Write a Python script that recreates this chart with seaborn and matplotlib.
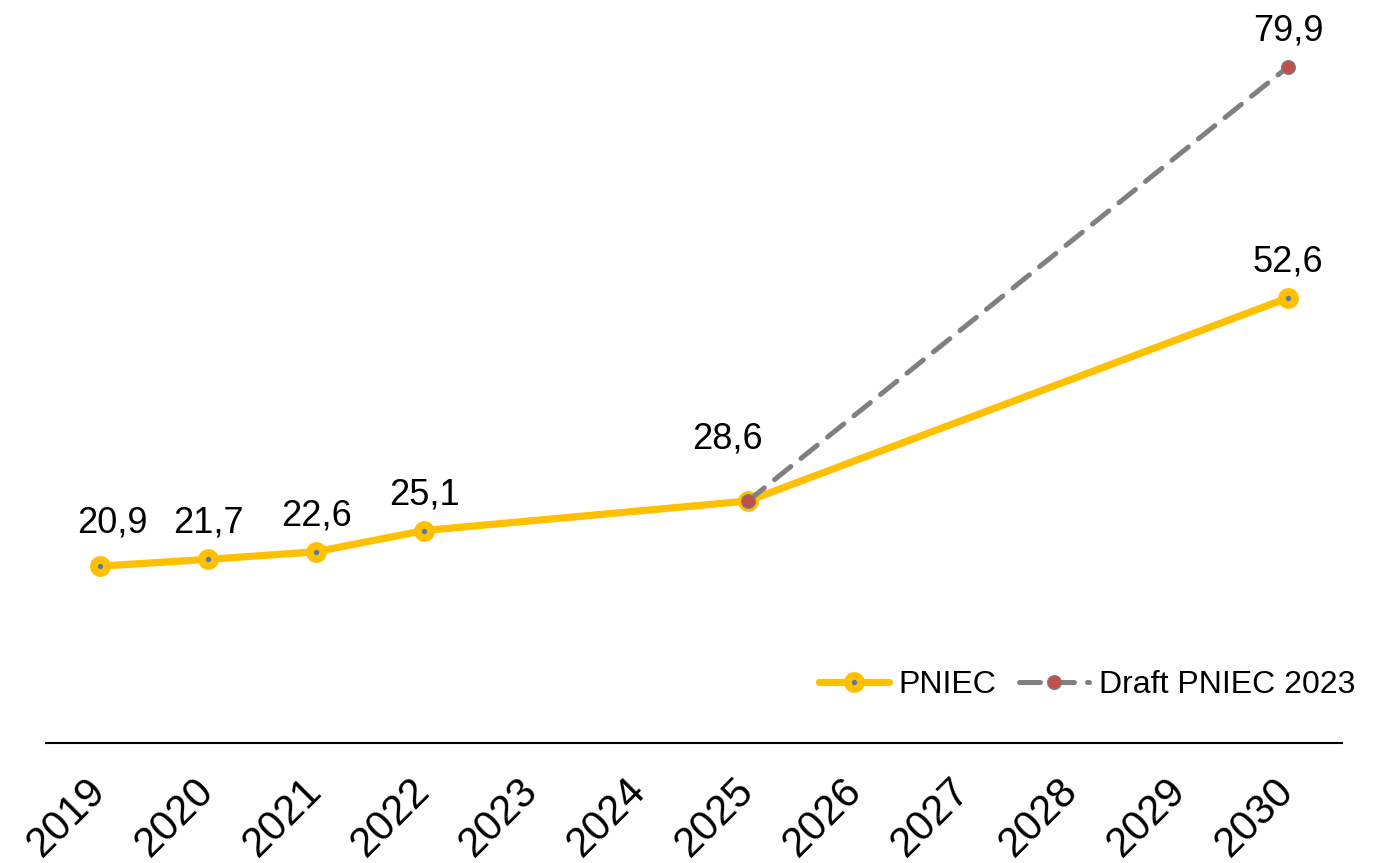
import matplotlib
matplotlib.use("Agg")
import matplotlib.pyplot as plt
import seaborn as sns
import pandas as pd

# Series values
years = list(range(2019, 2031))
pniec_years = [2019, 2020, 2021, 2022, 2025, 2030]
pniec_values = [20.9, 21.7, 22.6, 25.1, 28.6, 52.6]
draft_years = [2025, 2030]
draft_values = [28.6, 79.9]
series_names = ["PNIEC", "Draft PNIEC 2023"]

# Label offsets (points) for the value annotations
pniec_label_offsets = [(9, 24), (0, 19), (0, 19), (0, 19), (-15, 38), (0, 19)]
draft_label_offsets = [None, (0, 19)]

sns.set_theme(style="white")
plt.rcParams["font.family"] = ["Liberation Sans", "DejaVu Sans"]
plt.rcParams["text.color"] = "black"
plt.rcParams["xtick.color"] = "black"
plt.rcParams["legend.labelcolor"] = "black"

YELLOW = "#FFC000"
GREY = "#808080"
RED = "#C0504D"
DOT = "#5B7BA6"

fig = plt.figure(figsize=(13.84, 8.63), dpi=100)
ax = fig.add_axes([46 / 1384, 120 / 863, 1296 / 1384, 743 / 863])

df_p = pd.DataFrame({"year": pniec_years, "value": pniec_values})
df_d = pd.DataFrame({"year": draft_years, "value": draft_values})

sns.lineplot(data=df_p, x="year", y="value", ax=ax, color=YELLOW, linewidth=5.2,
             marker="o", markersize=9.5, markerfacecolor=DOT, markeredgecolor=YELLOW,
             markeredgewidth=5.5, label=series_names[0], zorder=3,
             solid_capstyle="round")
sns.lineplot(data=df_d, x="year", y="value", ax=ax, color=GREY, linewidth=3.6,
             linestyle=(0, (4.2, 2.6)), dash_capstyle="round",
             marker="o", markersize=10, markerfacecolor=RED, markeredgecolor=GREY,
             markeredgewidth=0.8, label=series_names[1], zorder=4)

# Value labels
for x, y, off in zip(pniec_years, pniec_values, pniec_label_offsets):
    ax.annotate(f"{y:.1f}".replace(".", ","), (x, y), xytext=off,
                textcoords="offset points", ha="center", va="baseline",
                fontsize=26, color="black")
for x, y, off in zip(draft_years, draft_values, draft_label_offsets):
    if off is None:
        continue
    ax.annotate(f"{y:.1f}".replace(".", ","), (x, y), xytext=off,
                textcoords="offset points", ha="center", va="baseline",
                fontsize=26, color="black")

ax.set_xlim(2018.5, 2030.5)
ax.set_ylim(0, 87.8)
ax.set_xticks(years)
ax.set_xticklabels([str(y) for y in years], rotation=45, ha="right",
                   va="center", rotation_mode="anchor", fontsize=30,
                   color="black")
ax.tick_params(axis="x", length=0, pad=30)
ax.set_yticks([])
ax.set_xlabel("")
ax.set_ylabel("")
for side in ["top", "left", "right"]:
    ax.spines[side].set_visible(False)
ax.spines["bottom"].set_color("black")
ax.spines["bottom"].set_linewidth(1.5)

leg = ax.legend(loc="center right", bbox_to_anchor=(1355 / 1384, 1 - 685 / 863),
                bbox_transform=fig.transFigure, ncol=2, frameon=False,
                fontsize=23, handlelength=2.2, handletextpad=0.3,
                columnspacing=0.7, borderpad=0, borderaxespad=0)
for t in leg.get_texts():
    t.set_color("black")

fig.savefig("out.png", dpi=100)
